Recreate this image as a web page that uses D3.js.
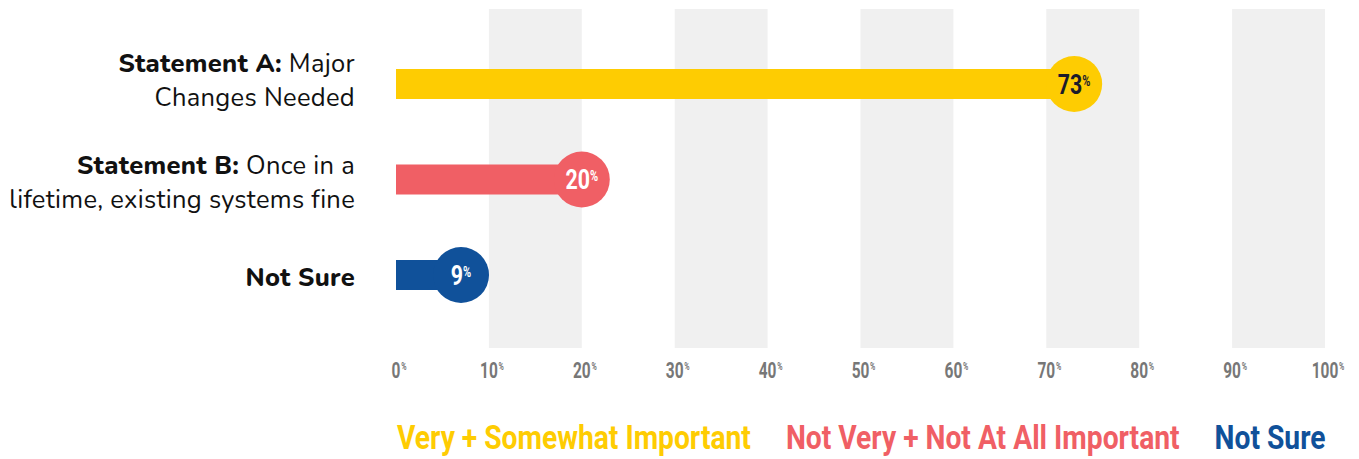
<!DOCTYPE html>
<html>
<head>
<meta charset="utf-8">
<script src="https://cdn.jsdelivr.net/npm/d3@7"></script>
<style>
  html, body { margin: 0; padding: 0; background: #fff; }
  svg { display: block; }
</style>
</head>
<body>
<svg id="chart" width="1359" height="459"></svg>
<script>
// ---- data ----
const categories = ["Statement A", "Statement B", "Not Sure"];
const barValues = [73, 20, 7];            // where each marker sits in the picture
const valueLabels = ["73", "20", "9"];    // printed labels
const labelBold = ["Statement A:", "Statement B:", "Not Sure"];
const labelRest = [" Major", " Once in a", ""];
const labelSecond = ["Changes Needed", "lifetime, existing systems fine", ""];
const seriesNames = ["Very + Somewhat Important", "Not Very + Not At All Important", "Not Sure"];
const tickValues = [0, 10, 20, 30, 40, 50, 60, 70, 80, 90, 100];
const shadedBands = [[10, 20], [30, 40], [50, 60], [70, 80], [90, 100]];

// ---- styles ----
const colors = ["#FECC02", "#F05F65", "#10519A"];
const circleTextColors = ["#1b1b2b", "#ffffff", "#ffffff"];
const condensed = "Roboto, 'Liberation Sans', sans-serif";
const labelFont = "Nunito, Lato, 'Open Sans', sans-serif";
const labelShift = [-4, 2, 1];

const svg = d3.select("#chart");
const x = d3.scaleLinear().domain([0, 100]).range([396, 1325]);
const y = d3.scalePoint().domain(categories).range([84, 275]);
const barH = 30, r = 28;

// shaded bands
svg.append("g").selectAll("rect").data(shadedBands).join("rect")
  .attr("x", d => x(d[0])).attr("width", d => x(d[1]) - x(d[0]))
  .attr("y", 9).attr("height", 339)
  .attr("fill", "#F0F0F0");

// tick labels
const tg = svg.append("g").selectAll("g").data(tickValues).join("g")
  .attr("transform", d => `translate(${x(d)},378) scale(0.72,1)`);
tg.append("text")
  .attr("class", "num")
  .attr("text-anchor", "middle")
  .attr("font-family", condensed).attr("font-weight", 700)
  .attr("font-size", 21.5).attr("fill", "#777777")
  .text(d => d);
tg.each(function() {
  const g = d3.select(this);
  const w = g.select("text.num").node().getComputedTextLength();
  g.append("text")
    .attr("x", w / 2 + 1).attr("y", -8)
    .attr("font-family", condensed).attr("font-weight", 700)
    .attr("font-size", 10).attr("fill", "#777777")
    .text("%");
});

// bars
const rows = categories.map((c, i) => ({ c, i, v: barValues[i], lab: valueLabels[i] }));
svg.append("g").selectAll("rect").data(rows).join("rect")
  .attr("x", x(0)).attr("y", d => y(d.c) - barH / 2)
  .attr("width", d => x(d.v) - x(0)).attr("height", barH)
  .attr("fill", d => colors[d.i]);

svg.append("g").selectAll("circle").data(rows).join("circle")
  .attr("cx", d => x(d.v)).attr("cy", d => y(d.c)).attr("r", r)
  .attr("fill", d => colors[d.i]);

const cl = svg.append("g").selectAll("g").data(rows).join("g")
  .attr("transform", d => `translate(${x(d.v)},${y(d.c) + 9.5}) scale(0.79,1)`);
const ct = cl.append("text")
  .attr("text-anchor", "middle")
  .attr("font-family", condensed).attr("font-weight", 700)
  .attr("fill", d => circleTextColors[d.i]);
ct.append("tspan").attr("font-size", 27).text(d => d.lab);
ct.append("tspan").attr("font-size", 14).attr("dy", -8).text("%");

// category labels
const lg = svg.append("g").selectAll("text").data(rows).join("text")
  .attr("text-anchor", "end")
  .attr("font-family", labelFont).attr("font-size", 25.5)
  .attr("letter-spacing", 0.3).attr("fill", "#111");
lg.each(function(d) {
  const t = d3.select(this);
  const twoLines = labelSecond[d.i] !== "";
  const base = y(d.c) + labelShift[d.i] + (twoLines ? -8 : 10);
  t.attr("y", base);
  const l1 = t.append("tspan").attr("x", 355).attr("y", base);
  l1.append("tspan").attr("font-weight", 800).text(labelBold[d.i]);
  if (labelRest[d.i]) l1.append("tspan").attr("font-weight", 400).text(labelRest[d.i]);
  if (twoLines) {
    t.append("tspan").attr("x", 355).attr("y", base + 34).attr("font-weight", 400).text(labelSecond[d.i]);
  }
});

// legend
const legScale = 0.83;
let lx = 397;
seriesNames.forEach((name, i) => {
  const g = svg.append("g").attr("transform", `translate(${lx},449) scale(${legScale},1)`);
  const t = g.append("text")
    .attr("font-family", condensed).attr("font-weight", 700)
    .attr("font-size", 34).attr("fill", colors[i])
    .text(name);
  lx += t.node().getComputedTextLength() * legScale + 35;
});
</script>
</body>
</html>
